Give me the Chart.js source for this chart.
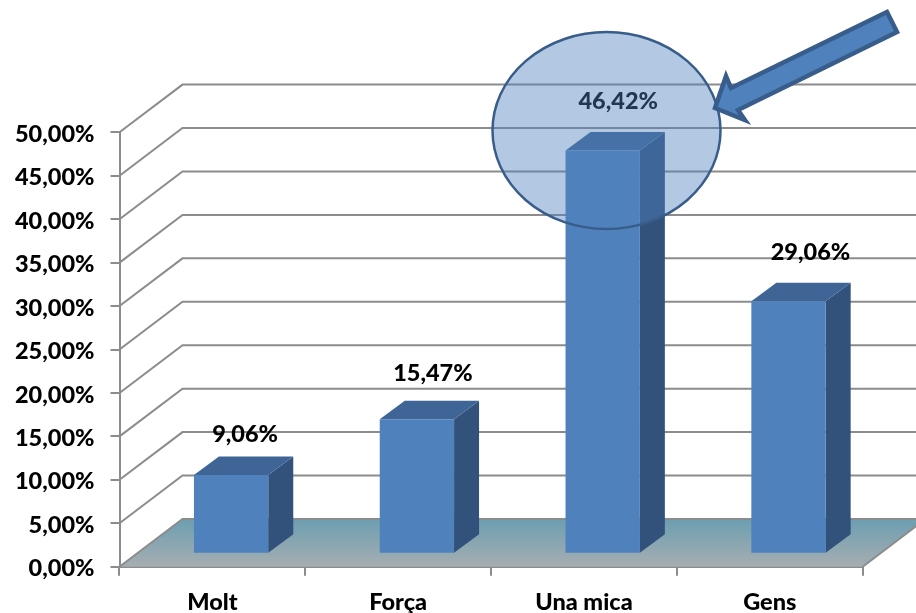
<!DOCTYPE html>
<html>
<head>
<meta charset="utf-8">
<style>
html,body{margin:0;padding:0;background:#fff;}
#wrap{width:916px;height:613px;}
</style>
<script src="https://cdn.jsdelivr.net/npm/chart.js@4/dist/chart.umd.min.js"></script>
</head>
<body>
<div id="wrap"><canvas id="c" width="916" height="613"></canvas></div>
<script>
const categories = ["Molt", "Força", "Una mica", "Gens"];
const values = [9.06, 15.47, 46.42, 29.06];
const valueLabels = ["9,06%", "15,47%", "46,42%", "29,06%"];
const yMax = 50;
const yStep = 5;

const FONT = 'Lato, Carlito, sans-serif';
const GRID = '#8c8c8c';
// 3D projection, in pixels
const WALL = {dx: 63, dy: -47.7};
const BAR_SHIFT = {dx: 18.7, dy: -13};
const BAR_DEPTH = {dx: 25, dy: -18.5};
const LABEL_POS = [{dx: 14, lift: 22}, {dx: 16, lift: 27}, {dx: 15.5, lift: 30}, {dx: 22, lift: 30}];

function poly(ctx, pts, fill, stroke, lw) {
  ctx.beginPath();
  pts.forEach((p, i) => i ? ctx.lineTo(p[0], p[1]) : ctx.moveTo(p[0], p[1]));
  ctx.closePath();
  if (fill) { ctx.fillStyle = fill; ctx.fill(); }
  if (stroke) { ctx.strokeStyle = stroke; ctx.lineWidth = lw; ctx.lineJoin = 'miter'; ctx.stroke(); }
}

const plugin3d = {
  id: 'plugin3d',
  beforeDatasetsDraw(chart) {
    const {ctx, scales: {x, y}} = chart;
    const L = x.left, R = x.right;
    ctx.save();
    ctx.lineWidth = 2;
    ctx.strokeStyle = GRID;
    // floor
    const y0 = y.getPixelForValue(0);
    const g = ctx.createLinearGradient(0, y0 + WALL.dy, 0, y0);
    g.addColorStop(0, '#6c9eb1');
    g.addColorStop(1, '#a6aeb1');
    poly(ctx, [[L, y0], [L + WALL.dx, y0 + WALL.dy], [R + WALL.dx, y0 + WALL.dy], [R, y0]], g);
    // walls
    for (let v = 0; v <= yMax; v += yStep) {
      const p = y.getPixelForValue(v);
      ctx.beginPath();
      ctx.moveTo(L, p);
      ctx.lineTo(L + WALL.dx, p + WALL.dy);
      ctx.lineTo(R + WALL.dx, p + WALL.dy);
      ctx.stroke();
    }
    ctx.beginPath();
    ctx.moveTo(R, y0);
    ctx.lineTo(R + WALL.dx, y0 + WALL.dy);
    ctx.stroke();
    // bar top and side faces
    const bars = chart.getDatasetMeta(0).data;
    bars.forEach((b) => {
      const l = b.x - b.width / 2 + BAR_SHIFT.dx;
      const r = b.x + b.width / 2 + BAR_SHIFT.dx;
      const t = b.y + BAR_SHIFT.dy;
      const m = b.base + BAR_SHIFT.dy;
      const dx = BAR_DEPTH.dx, dy = BAR_DEPTH.dy;
      poly(ctx, [[r, t], [r + dx, t + dy], [r + dx, m + dy], [r, m]], '#32527b');
      poly(ctx, [[l, t], [l + dx, t + dy], [r + dx, t + dy], [r, t]], '#3f6596');
    });
    ctx.restore();
  },
  beforeDatasetDraw(chart) {
    chart.ctx.save();
    chart.ctx.translate(BAR_SHIFT.dx, BAR_SHIFT.dy);
  },
  afterDatasetDraw(chart) {
    chart.ctx.restore();
  },
  afterDatasetsDraw(chart) {
    const {ctx, scales: {x, y}} = chart;
    ctx.save();
    // value labels
    ctx.font = '900 23.5px ' + FONT;
    ctx.fillStyle = '#000';
    ctx.textAlign = 'center';
    ctx.textBaseline = 'middle';
    const bars = chart.getDatasetMeta(0).data;
    bars.forEach((b, i) => {
      const top = b.y + BAR_SHIFT.dy + BAR_DEPTH.dy;
      ctx.fillText(valueLabels[i], b.x + BAR_SHIFT.dx + LABEL_POS[i].dx, top - LABEL_POS[i].lift);
    });
    // highlight ellipse, placed on the third bar's scale position
    const cx = x.getPixelForValue(2) + 22.5;
    const cy = y.getPixelForValue(50.2);
    ctx.beginPath();
    ctx.ellipse(cx, cy, 114, 98.5, 0, 0, Math.PI * 2);
    ctx.fillStyle = 'rgba(79,129,189,0.43)';
    ctx.fill();
    ctx.strokeStyle = '#385d8a';
    ctx.lineWidth = 2.5;
    ctx.stroke();
    // arrow
    poly(ctx, [[887, 12], [897, 32], [738, 110], [745, 120], [715, 108], [726, 76], [731, 88]],
      '#4f81bd', '#385d8a', 4.5);
    ctx.restore();
  }
};

new Chart(document.getElementById('c'), {
  type: 'bar',
  data: {
    labels: categories,
    datasets: [{
      data: values,
      backgroundColor: '#4f81bd',
      borderWidth: 0,
      categoryPercentage: 1,
      barPercentage: 0.4,
      clip: false
    }]
  },
  options: {
    responsive: false,
    animation: false,
    events: [],
    layout: {padding: {top: 132.3, right: 53.3, left: 0, bottom: 0}},
    plugins: {legend: {display: false}, tooltip: {enabled: false}},
    scales: {
      x: {
        afterFit(s) { s.height = 46.3; },
        grid: {drawOnChartArea: false, drawTicks: true, tickLength: 9, color: GRID, lineWidth: 2},
        border: {color: GRID, width: 2},
        ticks: {color: '#000', font: {family: FONT, size: 23.5, weight: '900'}, padding: 13, maxRotation: 0}
      },
      y: {
        min: 0, max: yMax,
        afterFit(s) { s.width = 119.5; },
        grid: {drawOnChartArea: false, drawTicks: true, tickLength: 9, color: GRID, lineWidth: 2},
        border: {color: GRID, width: 2},
        ticks: {
          stepSize: yStep,
          color: '#000',
          padding: 16,
          labelOffset: 2,
          font: {family: FONT, size: 23.5, weight: '900'},
          callback(v) { return v.toFixed(2).replace('.', ',') + '%'; }
        }
      }
    }
  },
  plugins: [plugin3d]
});
</script>
</body>
</html>
